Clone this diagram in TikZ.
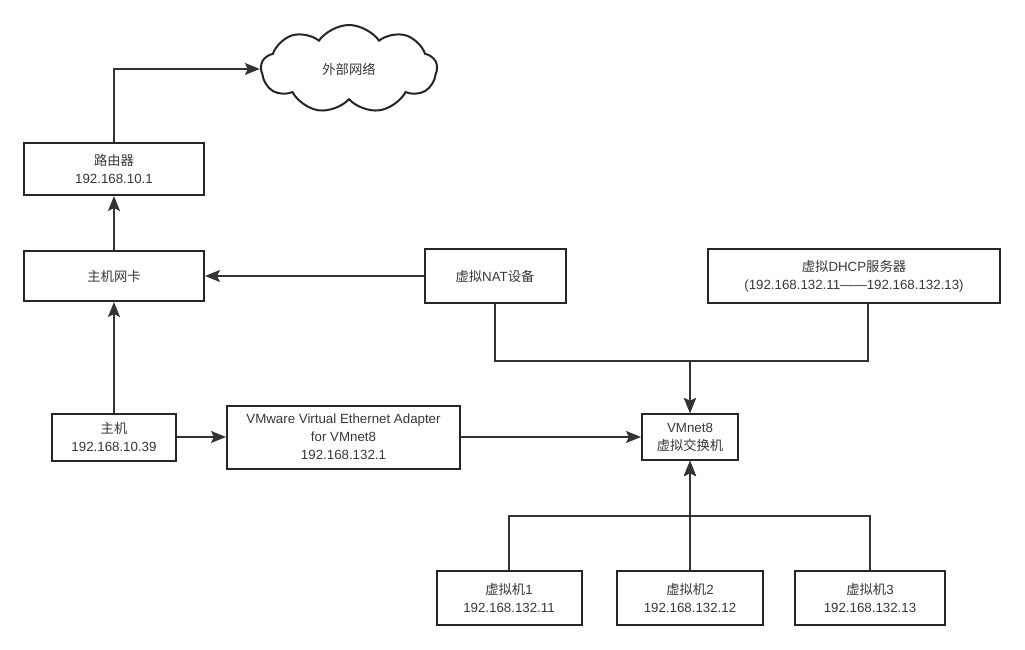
\documentclass[tikz,border=0pt]{standalone}
\usepackage{fontspec}
\setmainfont{Liberation Sans}
\newfontfamily\cjk{Noto Sans CJK SC}
\usetikzlibrary{arrows.meta,shapes.symbols}

\begin{document}
\begin{tikzpicture}[x=1pt,y=-1pt,
	box/.style={draw=black!85, line width=2pt, fill=white, inner sep=0pt, align=center,
		text=black!78, font=\fontsize{13.3}{18}\selectfont},
	link/.style={draw=black!80, line width=1.5pt},
	arr/.style={link, -{Stealth[length=15pt,width=12pt,inset=3pt]}}]
		%%%%% START %%%%%
		
		\useasboundingbox[fill=white] (0,0) rectangle (1025,650);
		
		\node[box, shape=cloud, cloud puffs=9, cloud puff arc=110, aspect=2, minimum width=176pt, minimum height=88pt] (net) at (349,69) {\cjk 外部网络};
		
		\node[box, minimum width=180pt, minimum height=52pt] (router) at (114,169) {{\cjk 路由器}\\192.168.10.1};
		\node[box, minimum width=180pt, minimum height=50pt] (nic) at (114,276) {\cjk 主机网卡};
		\node[box, minimum width=124pt, minimum height=47pt] (host) at (114,437) {{\cjk 主机}\\192.168.10.39};
		\node[box, minimum width=233pt, minimum height=63pt] (adapter) at (343.5,437) {VMware Virtual Ethernet Adapter\\for VMnet8\\192.168.132.1};
		
		\node[box, minimum width=141pt, minimum height=54pt] (nat) at (495,276) {{\cjk 虚拟}NAT{\cjk 设备}};
		\node[box, minimum width=292pt, minimum height=54pt] (dhcp) at (854,276) {{\cjk 虚拟}DHCP{\cjk 服务器}\\(192.168.132.11——192.168.132.13)};
		\node[box, minimum width=96pt, minimum height=46pt] (switch) at (690,437) {VMnet8\\{\cjk 虚拟交换机}};
		
		\node[box, minimum width=145pt, minimum height=54pt] (vm1) at (509,598) {{\cjk 虚拟机}1\\192.168.132.11};
		\node[box, minimum width=146pt, minimum height=54pt] (vm2) at (690,598) {{\cjk 虚拟机}2\\192.168.132.12};
		\node[box, minimum width=150pt, minimum height=54pt] (vm3) at (870,598) {{\cjk 虚拟机}3\\192.168.132.13};
		
		\coordinate (jointop) at (690,361);
		\coordinate (joinbot) at (690,516);
		
		\draw[arr] (router.north) |- (net.west);
		\draw[arr] (nic) -- (router);
		\draw[arr] (host) -- (nic);
		\draw[arr] (nat) -- (nic);
		\draw[arr] (host) -- (adapter);
		\draw[arr] (adapter) -- (switch);
		
		\draw[arr] (nat.south) |- (jointop) -- (switch.north);
		\draw[arr] ([xshift=14pt]dhcp.south) |- (jointop) -- (switch.north);
		
		\foreach \vm in {vm1,vm2,vm3}
			\draw[arr] (\vm.north) |- (joinbot) -- (switch.south);
		
		%%%%% END %%%%%
\end{tikzpicture}
\end{document}
